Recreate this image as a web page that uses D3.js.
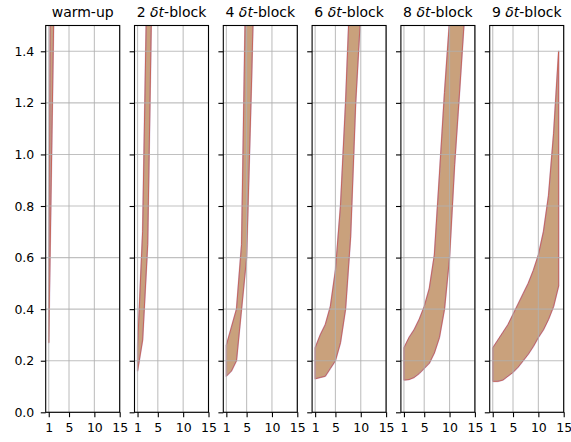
<!DOCTYPE html>
<html>
<head>
<meta charset="utf-8">
<script src="https://cdn.jsdelivr.net/npm/d3@7/dist/d3.min.js"></script>
<style>
  html, body { margin: 0; padding: 0; background: #fff; }
  svg { display: block; }
  text { font-family: "DejaVu Sans", sans-serif; fill: #000; }
</style>
</head>
<body>
<svg id="chart" width="571" height="442"></svg>
<script>
// Block sizes shown in the panel titles (first panel is the warm-up run)
const blockLabels = [null, "2", "4", "6", "8", "9"];

// Step index per panel
const steps0 = [1, 2];
const steps1 = [1, 2, 3, 4];
const steps2 = [1, 2, 3, 4, 5, 6, 7];
const steps3 = [1, 2, 3, 4, 5, 6, 7, 8, 9, 10];
const steps4 = [1, 2, 3, 4, 5, 6, 7, 8, 9, 10, 11, 12, 13];
const steps5 = [1, 2, 3, 4, 5, 6, 7, 8, 9, 10, 11, 12, 13, 14];

// Lower envelope of each band
const lower0 = [0.27, 1.55];
const lower1 = [0.16, 0.28, 0.65, 1.85];
const lower2 = [0.14, 0.16, 0.20, 0.40, 0.60, 1.30, 2.10];
const lower3 = [0.13, 0.135, 0.14, 0.17, 0.20, 0.27, 0.40, 0.68, 1.20, 1.55];
const lower4 = [0.125, 0.127, 0.135, 0.15, 0.17, 0.19, 0.23, 0.29, 0.40, 0.60, 0.96, 1.25, 1.55];
const lower5 = [0.12, 0.12, 0.125, 0.14, 0.155, 0.175, 0.20, 0.225, 0.255, 0.29, 0.32, 0.36, 0.41, 0.49];

// Upper envelope of each band
const upper0 = [0.29, 4.8];
const upper1 = [0.25, 0.70, 1.85, 3.00];
const upper2 = [0.26, 0.33, 0.40, 0.65, 1.90, 3.00, 4.00];
const upper3 = [0.25, 0.30, 0.34, 0.41, 0.55, 0.80, 1.20, 1.70, 2.20, 2.70];
const upper4 = [0.25, 0.29, 0.32, 0.36, 0.41, 0.48, 0.61, 0.92, 1.24, 1.52, 1.90, 2.30, 2.70];
const upper5 = [0.25, 0.28, 0.31, 0.34, 0.38, 0.42, 0.46, 0.50, 0.55, 0.61, 0.70, 0.84, 1.08, 1.40];

// Axis ticks
const xTicks = [1, 5, 10, 15];
const yTicks = [0, 0.2, 0.4, 0.6, 0.8, 1.0, 1.2, 1.4];

const stepsList = [steps0, steps1, steps2, steps3, steps4, steps5];
const lowerList = [lower0, lower1, lower2, lower3, lower4, lower5];
const upperList = [upper0, upper1, upper2, upper3, upper4, upper5];

const svg = d3.select("#chart");

const panelLeft0 = 45.7, panelW = 74, panelStep = 88.8;
const plotTop = 25.5, plotBottom = 412.3;

const y = d3.scaleLinear().domain([0, 1.5]).range([plotBottom, plotTop]);

const fillColor = "#c9a17c";
const edgeColor = "#c65a48";
const haloColor = "#a889c4";

stepsList.forEach((steps, p) => {
  const left = panelLeft0 + p * panelStep;
  const x = d3.scaleLinear().domain([0.4, 15]).range([left, left + panelW]);
  const g = svg.append("g");

  const clipId = "clip" + p;
  svg.append("clipPath").attr("id", clipId)
    .append("rect").attr("x", left).attr("y", plotTop)
    .attr("width", panelW).attr("height", plotBottom - plotTop);

  const rows = steps.map((s, i) => ({ s, lo: lowerList[p][i], hi: upperList[p][i] }));

  const area = d3.area().x(d => x(d.s)).y0(d => y(d.lo)).y1(d => y(d.hi));

  // Shaded band between the two envelopes, outlined
  const band = g.append("g").attr("clip-path", `url(#${clipId})`);
  band.append("path").datum(rows).attr("d", area)
    .attr("fill", fillColor)
    .attr("stroke", haloColor).attr("stroke-opacity", 0.55).attr("stroke-width", 1.6)
    .attr("stroke-linejoin", "round");
  band.append("path").datum(rows).attr("d", area)
    .attr("fill", "none")
    .attr("stroke", edgeColor).attr("stroke-opacity", 0.85).attr("stroke-width", 1.0)
    .attr("stroke-linejoin", "round");

  // Grid
  const grid = g.append("g").attr("stroke", "#b0b0b0").attr("stroke-width", 1.1).attr("stroke-opacity", 0.8);
  xTicks.forEach(t => grid.append("line")
    .attr("x1", x(t)).attr("x2", x(t)).attr("y1", plotTop).attr("y2", plotBottom));
  yTicks.forEach(t => grid.append("line")
    .attr("x1", left).attr("x2", left + panelW).attr("y1", y(t)).attr("y2", y(t)));

  // Axes
  const xAxis = d3.axisBottom(x).tickValues(xTicks).tickSize(4.9).tickPadding(5.5)
    .tickFormat(d3.format("d"));
  const gx = g.append("g").attr("transform", `translate(0,${plotBottom})`).call(xAxis);
  gx.select(".domain").remove();
  gx.selectAll("line").attr("stroke", "#000").attr("stroke-width", 1.1);
  gx.selectAll("text").attr("font-size", 12.5).attr("font-family", "DejaVu Sans");

  const yAxis = d3.axisLeft(y).tickValues(yTicks).tickSize(4.9).tickPadding(6.5)
    .tickFormat(p === 0 ? d3.format(".1f") : () => "");
  const gy = g.append("g").attr("transform", `translate(${left},0)`).call(yAxis);
  gy.select(".domain").remove();
  gy.selectAll("line").attr("stroke", "#000").attr("stroke-width", 1.1);
  gy.selectAll("text").attr("font-size", 12.5).attr("font-family", "DejaVu Sans");

  // Frame
  g.append("rect").attr("x", left).attr("y", plotTop)
    .attr("width", panelW).attr("height", plotBottom - plotTop)
    .attr("fill", "none").attr("stroke", "#000").attr("stroke-width", 1.1);

  // Title
  const title = g.append("text").attr("x", left + panelW / 2).attr("y", 16.5)
    .attr("text-anchor", "middle").attr("font-size", 14);
  if (blockLabels[p] === null) {
    title.text("warm-up");
  } else {
    title.append("tspan").text(blockLabels[p] + " ");
    title.append("tspan").attr("font-style", "italic").text("δt");
    title.append("tspan").text("-block");
  }
});
</script>
</body>
</html>
